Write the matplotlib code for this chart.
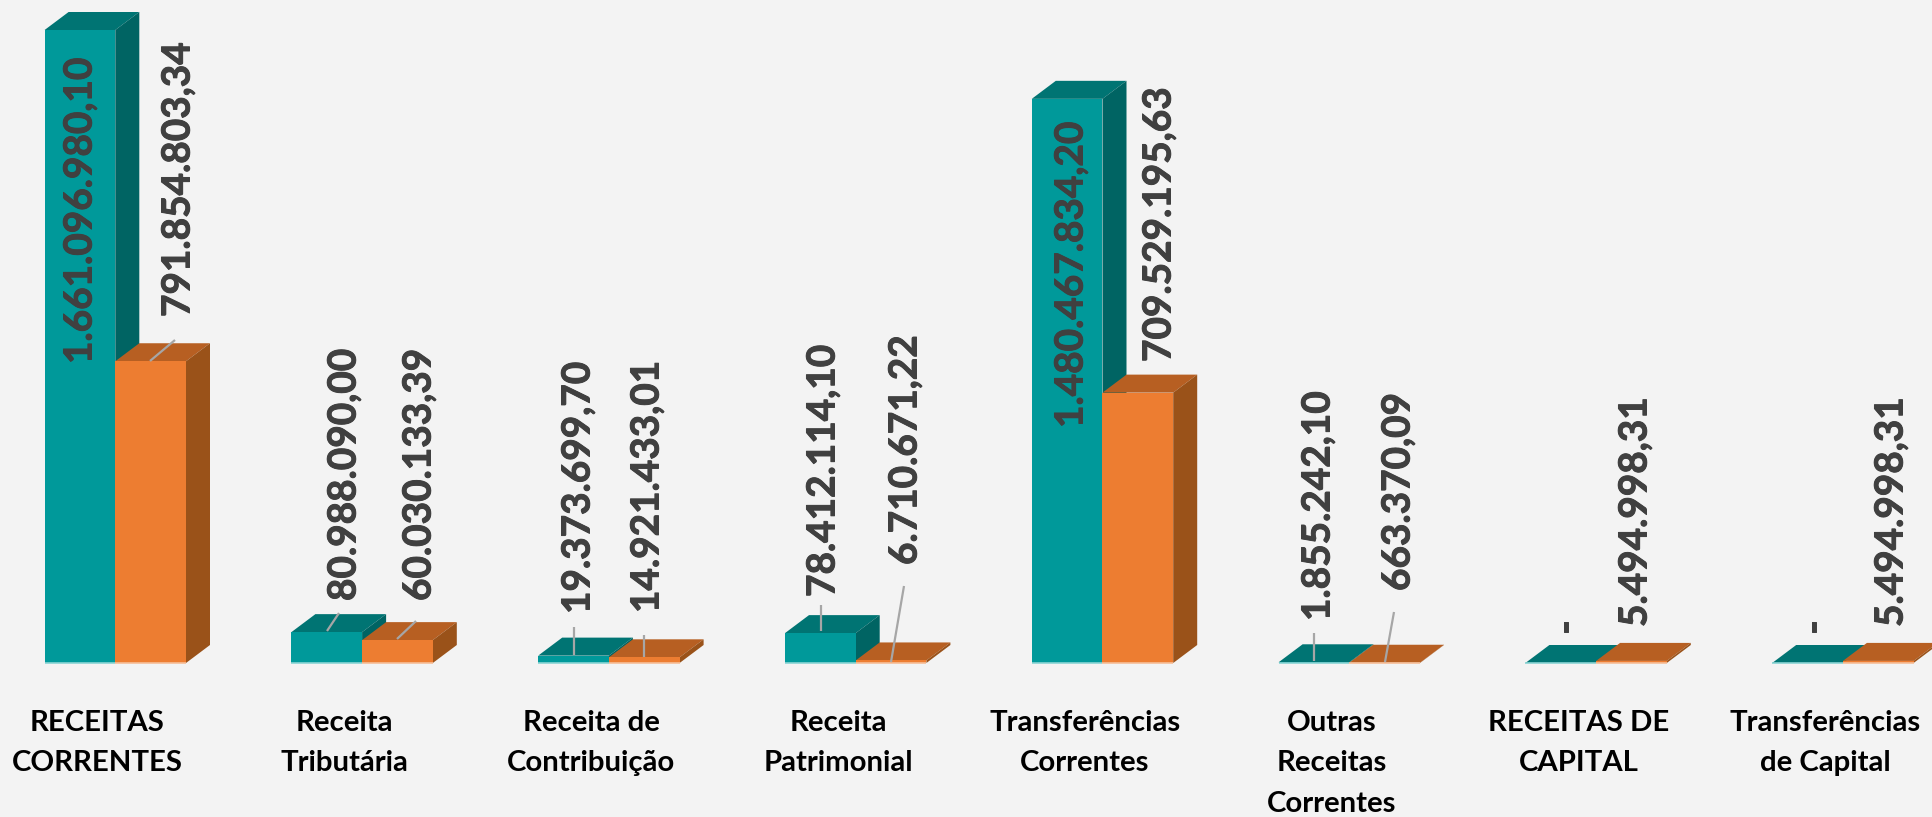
import matplotlib
matplotlib.use("Agg")
import matplotlib.pyplot as plt
import matplotlib.patheffects as pe
from matplotlib.transforms import Affine2D

CATEGORIES = [
    "RECEITAS\nCORRENTES", "Receita\nTributária", "Receita de\nContribuição",
    "Receita\nPatrimonial", "Transferências\nCorrentes",
    "Outras\nReceitas\nCorrentes", "RECEITAS DE\nCAPITAL",
    "Transferências\nde Capital"
]
PREVISTO = [1661096980.10, 80988090.00, 19373699.70, 78412114.10,
            1480467834.20, 1855242.10, 0, 0]
REALIZADO = [791854803.34, 60030133.39, 14921433.01, 6710671.22,
             709529195.63, 663370.09, 5494998.31, 5494998.31]

W, H = 1933, 817
BASE_Y = 663
LEFT = 44.6
PITCH = 246.8
BAR_PX = 70.7
DEPTH_X = 24
DEPTH_Y = 18
PX_PER_UNIT = 633 / 1661096980.10

# label anchors in pixels: x centre, bottom of the rotated text
LABEL_TEAL = [(80, 364), (344, 601), (578, 614), (823, 597), (1071, 428),
              (1318, 621), (1566, 634), (1814, 634)]
LABEL_ORANGE = [(178, 317), (419, 601), (647, 613), (905, 565), (1159, 362),
                (1398, 591), (1635, 627), (1891, 627)]
LEADERS = [((150, 361), (175, 340)), ((327, 631), (339, 613)),
           ((397, 639), (416, 621)), ((574, 655), (574, 627)),
           ((644, 657), (644, 635)), ((821, 631), (821, 605)),
           ((891, 662), (904, 586)), ((1314, 661), (1314, 633)),
           ((1385, 662), (1394, 612))]
CAT_X = [97, 344, 591, 838, 1085, 1332, 1579, 1825]

TEAL = ("#00999A", "#007473", "#006463", "#8AD4D4")
ORANGE = ("#ED7D31", "#B75F22", "#9A5219", "#F6BE98")
BG = "#F3F3F3"


def fmt(value):
    if value == 0:
        return "-"
    return f"{value:,.2f}".replace(",", "#").replace(".", ",").replace("#", ".")


def bar3d(ax, x, value, colors):
    width = BAR_PX / PITCH
    dx = DEPTH_X / PITCH
    dy = DEPTH_Y / PX_PER_UNIT
    ax.fill([x, x + dx, x + width + dx, x + width],
            [value, value + dy, value + dy, value],
            color=colors[1], linewidth=0)
    ax.fill([x + width, x + width + dx, x + width + dx, x + width],
            [0, dy, value + dy, value], color=colors[2], linewidth=0)
    ax.bar(x, value, width, align="edge", color=colors[0], linewidth=0)
    ax.plot([x, x + width], [0, 0], color=colors[3], lw=1.2,
            solid_capstyle="butt")


fig = plt.figure(figsize=(W / 100, H / 100), dpi=100, facecolor=BG)
ax = fig.add_axes([0, 0, 1, 1])
ax.axis("off")
center0 = LEFT + BAR_PX
ax.set_xlim(-center0 / PITCH, (W - center0) / PITCH)
ax.set_ylim(-(H - BASE_Y) / PX_PER_UNIT, BASE_Y / PX_PER_UNIT)

for i, (a, b) in enumerate(zip(PREVISTO, REALIZADO)):
    bar3d(ax, i - BAR_PX / PITCH, a, TEAL)
    bar3d(ax, i, b, ORANGE)

px = Affine2D().scale(1, -1).translate(0, H)
for p0, p1 in LEADERS:
    ax.plot([p0[0], p1[0]], [p0[1], p1[1]], color="#A6A6A6", lw=1.6,
            transform=px, solid_capstyle="butt", clip_on=False)

heavy = [pe.withStroke(linewidth=0.7, foreground="#404040")]
for values, anchors in ((PREVISTO, LABEL_TEAL), (REALIZADO, LABEL_ORANGE)):
    for value, (x, y) in zip(values, anchors):
        ax.text(x, y, fmt(value), transform=px, rotation=90, ha="center",
                va="bottom", family="Lato", weight="bold", fontsize=27.9,
                color="#404040", path_effects=heavy)

for label, x in zip(CATEGORIES, CAT_X):
    ax.text(x, 710, label, transform=px, ha="center", va="top", family="Lato",
            weight="bold", fontsize=21.2, color="black", linespacing=1.68,
            multialignment="center")

fig.savefig("out.png", dpi=100, facecolor=BG)
